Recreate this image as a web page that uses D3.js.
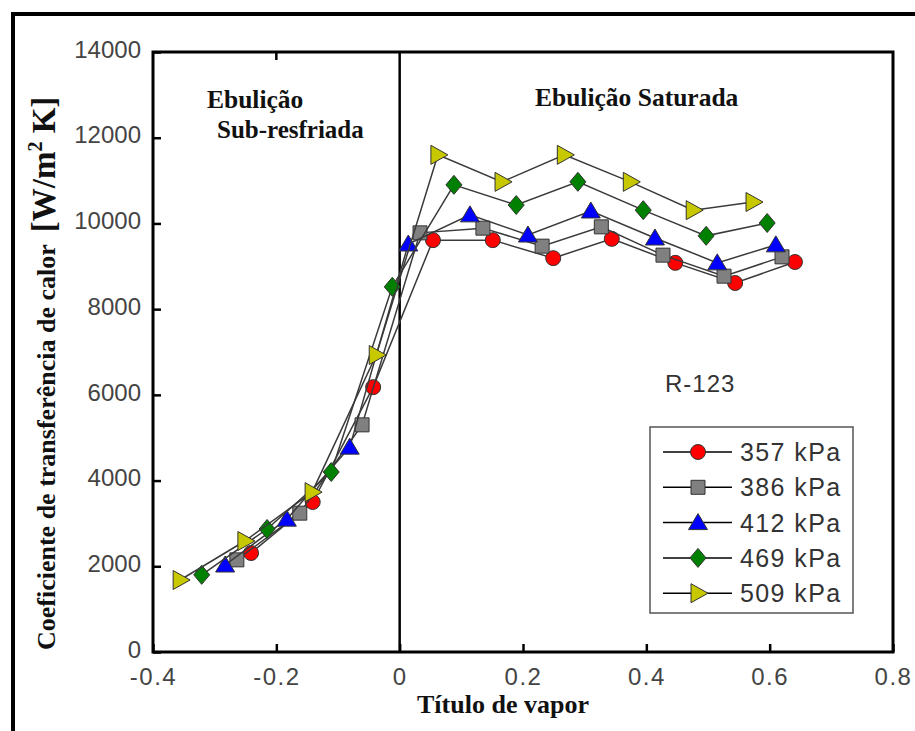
<!DOCTYPE html>
<html>
<head>
<meta charset="utf-8">
<script src="https://cdn.jsdelivr.net/npm/d3@7"></script>
<style>
body{margin:0;background:#fff}
</style>
</head>
<body>
<script>
// pressures (legend)
const pressures = ["357 kPa", "386 kPa", "412 kPa", "469 kPa", "509 kPa"];

// vapour quality (x) and heat transfer coefficient (y)
const x357 = [-0.241, -0.141, -0.043, 0.054, 0.151, 0.249, 0.344, 0.447, 0.544, 0.641];
const h357 = [2310, 3500, 6180, 9610, 9610, 9190, 9640, 9080, 8610, 9100];

const x386 = [-0.264, -0.162, -0.061, 0.033, 0.135, 0.231, 0.327, 0.427, 0.526, 0.620];
const h386 = [2150, 3240, 5300, 9780, 9890, 9470, 9920, 9260, 8770, 9220];

const x412 = [-0.283, -0.183, -0.081, 0.014, 0.114, 0.208, 0.310, 0.414, 0.515, 0.610];
const h412 = [2030, 3100, 4780, 9520, 10200, 9730, 10290, 9660, 9080, 9500];

const x469 = [-0.321, -0.215, -0.111, -0.012, 0.088, 0.189, 0.289, 0.395, 0.497, 0.596];
const h469 = [1800, 2870, 4200, 8520, 10900, 10430, 10970, 10310, 9710, 10010];

const x509 = [-0.356, -0.251, -0.142, -0.038, 0.062, 0.166, 0.267, 0.374, 0.476, 0.573];
const h509 = [1680, 2590, 3730, 6930, 11600, 10970, 11600, 10970, 10310, 10500];

const xTicks = [-0.4, -0.2, 0, 0.2, 0.4, 0.6, 0.8];
const yTicks = [0, 2000, 4000, 6000, 8000, 10000, 12000, 14000];

const colors = ["#ff0000", "#808080", "#0000ff", "#008000", "#c8c800"];
const shapes = ["circle", "square", "triUp", "diamond", "triRight"];

const data = [[x357, h357], [x386, h386], [x412, h412], [x469, h469], [x509, h509]]
  .map(function(s, i){
    return {name: pressures[i], color: colors[i], shape: shapes[i],
      pts: s[0].map(function(v, j){ return [v, s[1][j]]; })};
  });

let w = 915;
let h = 731;
const pL = 153, pR = 893, pT = 52, pB = 652;

const xScale = d3.scaleLinear().domain([-0.4, 0.8]).range([pL, pR]);
const yScale = d3.scaleLinear().domain([0, 14000]).range([pB, pT]);

const svg = d3.select("body")
  .append("svg")
  .attr("width", w)
  .attr("height", h);

// outer frame (left + top only)
svg.append("path")
  .attr("d", "M13,731 L13,14 L915,14")
  .attr("fill", "none")
  .attr("stroke", "#000")
  .attr("stroke-width", 4);

// marker path
function markerPath(shape){
  if (shape === "circle") return "M-7.5,0 A7.5,7.5 0 1,0 7.5,0 A7.5,7.5 0 1,0 -7.5,0 Z";
  if (shape === "square") return "M-7,-7 L7,-7 L7,7 L-7,7 Z";
  if (shape === "triUp") return "M0,-9 L9.5,7 L-9.5,7 Z";
  if (shape === "diamond") return "M0,-9.5 L8,0 L0,9.5 L-8,0 Z";
  if (shape === "triRight") return "M-7,-9.5 L10,0 L-7,9.5 Z";
}

// axes ticks (inward)
const xAxis = d3.axisBottom(xScale)
  .tickValues(xTicks)
  .tickSize(-8)
  .tickSizeOuter(0)
  .tickPadding(14)
  .tickFormat(function(d){ return d === 0 ? "0" : String(d); });

const yAxis = d3.axisLeft(yScale)
  .tickValues(yTicks)
  .tickSize(-8)
  .tickSizeOuter(0)
  .tickPadding(12)
  .tickFormat(function(d){ return String(d); });

const gx = svg.append("g")
  .attr("transform", "translate(0," + pB + ")")
  .call(xAxis);
const gy = svg.append("g")
  .attr("transform", "translate(" + pL + ",0)")
  .call(yAxis);

[gx, gy].forEach(function(g){
  g.select(".domain").remove();
  g.selectAll("line").attr("stroke", "#000").attr("stroke-width", 2.5);
  g.selectAll("text")
    .attr("font-family", "Liberation Sans, Arial, sans-serif")
    .attr("font-size", 24)
    .attr("fill", "#444");
});
gx.selectAll("text").attr("letter-spacing", 1.5).attr("dy", "0.8em");
gy.selectAll("text").attr("dy", "0.22em");

// top tick at -0.2
svg.append("line")
  .attr("x1", xScale(-0.2)).attr("x2", xScale(-0.2))
  .attr("y1", pT).attr("y2", pT + 8)
  .attr("stroke", "#000").attr("stroke-width", 2.5);

// separator at x = 0
svg.append("line")
  .attr("x1", xScale(0)).attr("x2", xScale(0))
  .attr("y1", pT).attr("y2", pB)
  .attr("stroke", "#000").attr("stroke-width", 2.5);

// plot box
svg.append("rect")
  .attr("x", pL).attr("y", pT)
  .attr("width", pR - pL).attr("height", pB - pT)
  .attr("fill", "none")
  .attr("stroke", "#000")
  .attr("stroke-width", 3);

const line = d3.line()
  .x(function(d){ return xScale(d[0]); })
  .y(function(d){ return yScale(d[1]); });

data.forEach(function(s){
  svg.append("path")
    .datum(s.pts)
    .attr("d", line)
    .attr("fill", "none")
    .attr("stroke", "#3a3a3a")
    .attr("stroke-width", 1.5);
  svg.selectAll(null)
    .data(s.pts)
    .enter()
    .append("path")
    .attr("d", markerPath(s.shape))
    .attr("transform", function(d){ return "translate(" + xScale(d[0]) + "," + yScale(d[1]) + ")"; })
    .attr("fill", s.color)
    .attr("stroke", "#333")
    .attr("stroke-width", 1);
});

// legend
const lg = svg.append("g");
lg.append("rect")
  .attr("x", 650).attr("y", 427)
  .attr("width", 203).attr("height", 186)
  .attr("fill", "#fff")
  .attr("stroke", "#555")
  .attr("stroke-width", 1.5);
data.forEach(function(s, i){
  const yy = 452 + i * 35.3;
  lg.append("line")
    .attr("x1", 663).attr("x2", 732)
    .attr("y1", yy).attr("y2", yy)
    .attr("stroke", "#000").attr("stroke-width", 1.5);
  lg.append("path")
    .attr("d", markerPath(s.shape))
    .attr("transform", "translate(698," + yy + ")")
    .attr("fill", s.color)
    .attr("stroke", "#333");
  lg.append("text")
    .attr("x", 740).attr("y", yy)
    .attr("dy", "0.36em")
    .attr("font-family", "Liberation Sans, Arial, sans-serif")
    .attr("font-size", 25)
    .attr("letter-spacing", 1.4)
    .attr("fill", "#333")
    .text(s.name);
});

// annotations
const serif = "Liberation Serif, Times New Roman, serif";
svg.append("text")
  .attr("x", 665).attr("y", 392)
  .attr("font-family", "Liberation Sans, Arial, sans-serif")
  .attr("font-size", 24)
  .attr("letter-spacing", 1)
  .attr("fill", "#333")
  .text("R-123");

svg.append("text")
  .attr("x", 207).attr("y", 108)
  .attr("font-family", serif).attr("font-weight", "bold")
  .attr("font-size", 25.5).attr("fill", "#111")
  .text("Ebulição");
svg.append("text")
  .attr("x", 217).attr("y", 138)
  .attr("font-family", serif).attr("font-weight", "bold")
  .attr("font-size", 25).attr("fill", "#111")
  .text("Sub-resfriada");
svg.append("text")
  .attr("x", 535).attr("y", 106)
  .attr("font-family", serif).attr("font-weight", "bold")
  .attr("font-size", 25.5).attr("fill", "#111")
  .text("Ebulição Saturada");

// x axis title
svg.append("text")
  .attr("x", 503).attr("y", 713)
  .attr("text-anchor", "middle")
  .attr("font-family", serif).attr("font-weight", "bold")
  .attr("font-size", 26).attr("fill", "#111")
  .text("Título de vapor");

// y axis title
const yt = svg.append("text")
  .attr("transform", "translate(55,650) rotate(-90)")
  .attr("font-family", serif).attr("font-weight", "bold")
  .attr("fill", "#111");
yt.append("tspan").attr("font-size", 26).text("Coeficiente de transferência de calor ");
yt.append("tspan").attr("font-size", 33).attr("dx", 6).text("[W/m");
yt.append("tspan").attr("font-size", 20).attr("dy", -13).text("2");
yt.append("tspan").attr("font-size", 33).attr("dy", 13).text(" K]");
</script>
</body>
</html>
